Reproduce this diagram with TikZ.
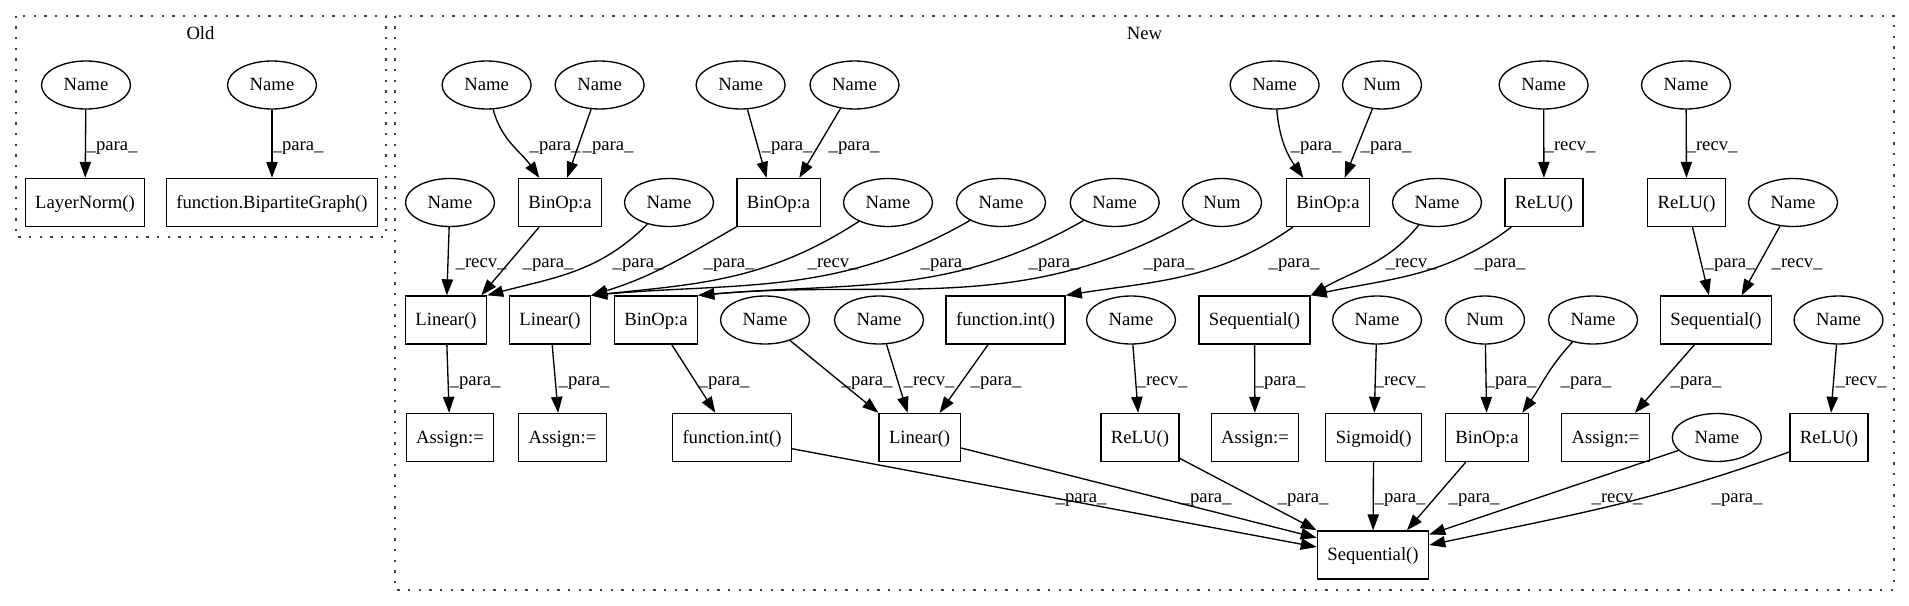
\documentclass[tikz,border=0pt]{standalone}
\usepackage{fontspec}
\setmainfont{Liberation Serif}
\usepackage{tikz}
\usetikzlibrary{arrows.meta,shapes}

\begin{document}
\begin{tikzpicture}[
    x=0.75pt, y=-0.75pt,
    every node/.style={font=\fontsize{14}{16}\selectfont},
    var/.style={draw, ellipse, line width=1pt, minimum width=66.75pt, minimum height=36pt, inner sep=1pt, text height=10pt, text depth=1.5pt},
    num/.style={var, minimum width=59.25pt},
    op/.style={draw, line width=1pt, minimum height=36pt, inner xsep=7.5pt, text height=10pt, text depth=1.5pt},
    flow/.style={-{Triangle[length=12pt,width=8.5pt]}, line width=1pt},
    tag/.style={anchor=west, inner sep=0pt, text height=12pt, text depth=2pt},
    group/.style={line width=1.4pt, dash pattern=on 1.8pt off 6.2pt, black!75},
]
  \useasboundingbox (0,0) rectangle (1909,606);
  \fill[white] (0,0) rectangle (1909,606);

  % clusters
  \draw[group] (15.7,15.7) rectangle (385.7,237.2);
  \draw[group] (395.3,15.7) rectangle (1893.7,589.7);
  \node (old) at (200.5,33) {Old};
  \node (new) at (1144.5,33) {New};

  % Old
  \node[var] (o1) at (86,85) {Name};
  \node[var] (o2) at (272,85) {Name};
  \node[op]  (ln) at (85,202.5) {LayerNorm()};
  \node[op]  (bg) at (272,202.5) {function.BipartiteGraph()};
  \draw[flow] (o1) -- (ln) node[tag] at (86,143.75) {\_para\_};
  \draw[flow] (o2) -- (bg) node[tag] at (272,143.75) {\_para\_};

  % New, first row
  \node[var] (n1) at (486.6,85) {Name};
  \node[var] (n2) at (599.6,85) {Name};
  \node[var] (n3) at (740.6,85) {Name};
  \node[var] (n4) at (854.5,85) {Name};
  \node[var] (n5) at (1274.6,85) {Name};
  \node[num] (n6) at (1382,85) {Num};
  \node[var] (n7) at (1543.6,85) {Name};
  \node[var] (n8) at (1686,85) {Name};

  % second row
  \node[var] (r2a)   at (450,202.5) {Name};
  \node[op]  (bin1)  at (560,202.5) {BinOp:a};
  \node[var] (r2b)   at (669,202.5) {Name};
  \node[op]  (bin2)  at (778.6,202.5) {BinOp:a};
  \node[var] (r2c)   at (888,202.5) {Name};
  \node[var] (r2d)   at (1001,202.5) {Name};
  \node[var] (r2e)   at (1114.7,202.5) {Name};
  \node[num] (r2f)   at (1222,202.5) {Num};
  \node[op]  (bin3)  at (1328,202.5) {BinOp:a};
  \node[var] (r2g)   at (1437,202.5) {Name};
  \node[op]  (relu1) at (1544,202.5) {ReLU()};
  \node[op]  (relu2) at (1686.6,202.5) {ReLU()};
  \node[var] (r2h)   at (1793,202.5) {Name};

  % third row
  \node[op]  (lin1) at (446,320) {Linear()};
  \node[op]  (lin2) at (550,320) {Linear()};
  \node[op]  (bin4) at (656,320) {BinOp:a};
  \node[var] (r3a)  at (765,320) {Name};
  \node[var] (r3b)  at (879,320) {Name};
  \node[op]  (int1) at (1005.6,320) {function.int()};
  \node[var] (r3c)  at (1131,320) {Name};
  \node[op]  (seq1) at (1254.5,320) {Sequential()};
  \node[var] (r3d)  at (1377,320) {Name};
  \node[num] (r3e)  at (1485,320) {Num};
  \node[var] (r3f)  at (1593,320) {Name};
  \node[op]  (seq2) at (1716,320) {Sequential()};
  \node[var] (r3g)  at (1838.5,320) {Name};

  % fourth row
  \node[op]  (as1)   at (450,437.5) {Assign:=};
  \node[op]  (as2)   at (562.5,437.5) {Assign:=};
  \node[op]  (int2)  at (732,437.5) {function.int()};
  \node[op]  (lin3)  at (919.6,437.5) {Linear()};
  \node[op]  (relu3) at (1140,437.5) {ReLU()};
  \node[op]  (as3)   at (1255,437.5) {Assign:=};
  \node[op]  (sig)   at (1373.6,437.5) {Sigmoid()};
  \node[op]  (bin5)  at (1487,437.5) {BinOp:a};
  \node[op]  (as4)   at (1605.5,437.5) {Assign:=};
  \node[var] (r4a)   at (1716.8,437.5) {Name};
  \node[op]  (relu4) at (1829,437.5) {ReLU()};

  \node[op] (seq3) at (1373,555) {Sequential()};

  % edges into the second row
  \draw[flow] (n1) to[out=-75,in=125] (bin1.130) node[tag] at (529,143.75) {\_para\_};
  \draw[flow] (n2) -- (bin1.74) node[tag] at (582,143.75) {\_para\_};
  \draw[flow] (n3) -- (bin2.116) node[tag] at (761,143.75) {\_para\_};
  \draw[flow] (n4) -- (bin2.50) node[tag] at (828,143.75) {\_para\_};
  \draw[flow] (n5) to[out=-85,in=125] (bin3.135) node[tag] at (1290,143.75) {\_para\_};
  \draw[flow] (n6) -- (bin3.56) node[tag] at (1360,143.75) {\_para\_};
  \draw[flow] (n7) -- (relu1) node[tag] at (1544,143.75) {\_recv\_};
  \draw[flow] (n8) -- (relu2) node[tag] at (1686,143.75) {\_recv\_};

  % edges into the third row
  \draw[flow] (r2a) -- (lin1) node[tag] at (455,261.25) {\_recv\_};
  \draw[flow] (bin1) -- (lin1.35) node[tag] at (522,261.25) {\_para\_};
  \draw[flow] (r2b) to[out=-135,in=15] (lin1.north east) node[tag] at (612,261.25) {\_para\_};
  \draw[flow] (bin2) to[out=-150,in=17] (lin2.north east) node[tag] at (703,261.25) {\_para\_};
  \draw[flow] (r2c) to[out=-147,in=6] (lin2.north east) node[tag] at (807,261.25) {\_recv\_};
  \draw[flow] (r2d) to[out=-150,in=5] (lin2.north east) node[tag] at (920,261.25) {\_para\_};
  \draw[flow] (r2e) to[out=-150,in=5] (bin4.north east) node[tag] at (1028,261.25) {\_para\_};
  \draw[flow] (r2f) to[out=-150,in=5] (bin4.north east) node[tag] at (1143,261.25) {\_para\_};
  \draw[flow] (bin3) to[out=-145,in=9] (int1.north east) node[tag] at (1268,261.25) {\_para\_};
  \draw[flow] (r2g) to[out=-129,in=30] (seq1.north east) node[tag] at (1385,261.25) {\_recv\_};
  \draw[flow] (relu1) to[out=-143,in=12] (seq1.north east) node[tag] at (1474,261.25) {\_para\_};
  \draw[flow] (relu2) -- (seq2.106) node[tag] at (1704,261.25) {\_para\_};
  \draw[flow] (r2h) -- (seq2.44) node[tag] at (1771,261.25) {\_recv\_};

  % edges into the fourth row
  \draw[flow] (lin1) -- (as1) node[tag] at (449,378.75) {\_para\_};
  \draw[flow] (lin2) -- (as2.100) node[tag] at (558,378.75) {\_para\_};
  \draw[flow] (bin4) -- (int2.124) node[tag] at (698,378.75) {\_para\_};
  \draw[flow] (r3a) -- (lin3.north west) node[tag] at (841,378.75) {\_para\_};
  \draw[flow] (r3b) -- (lin3.116) node[tag] at (903,378.75) {\_recv\_};
  \draw[flow] (int1) -- (lin3.51) node[tag] at (970,378.75) {\_para\_};
  \draw[flow] (r3c) -- (relu3) node[tag] at (1136,378.75) {\_recv\_};
  \draw[flow] (seq1) -- (as3) node[tag] at (1254,378.75) {\_para\_};
  \draw[flow] (r3d) -- (sig) node[tag] at (1374,378.75) {\_recv\_};
  \draw[flow] (r3e) -- (bin5) node[tag] at (1485,378.75) {\_para\_};
  \draw[flow] (r3f) to[out=-133,in=55] (bin5.35) node[tag] at (1560,378.75) {\_para\_};
  \draw[flow] (seq2) -- (as4.40) node[tag] at (1670,378.75) {\_para\_};
  \draw[flow] (r3g) -- (relu4) node[tag] at (1835,378.75) {\_recv\_};

  % everything feeding the last Sequential()
  \draw[flow] (int2) -- (seq3.172) node[tag] at (1055,496.25) {\_para\_};
  \draw[flow] (lin3) -- (seq3.163) node[tag] at (1180,496.25) {\_para\_};
  \draw[flow] (relu3) -- (seq3.north west) node[tag] at (1277,496.25) {\_para\_};
  \draw[flow] (sig) -- (seq3) node[tag] at (1374,496.25) {\_para\_};
  \draw[flow] (bin5) -- (seq3.36) node[tag] at (1448,496.25) {\_para\_};
  \draw[flow] (r4a) -- (seq3.20) node[tag] at (1591,496.25) {\_recv\_};
  \draw[flow] (relu4) to[out=-160,in=12] (seq3.10) node[tag] at (1711,496.25) {\_para\_};
\end{tikzpicture}
\end{document}
